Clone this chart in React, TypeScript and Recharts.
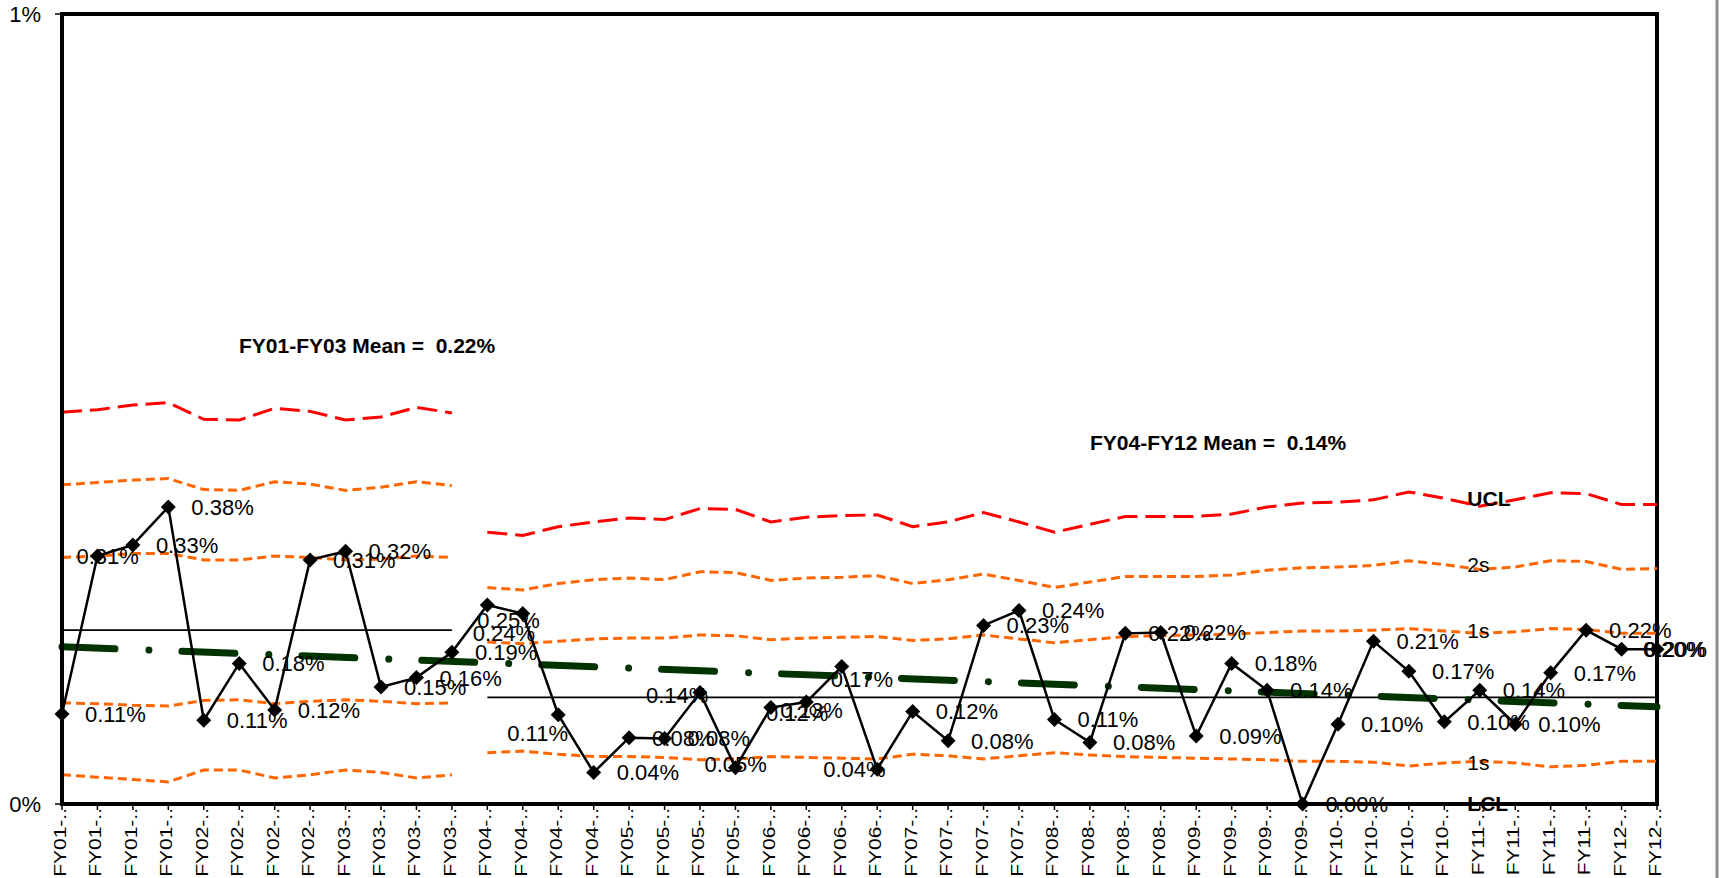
import React from "react";
import {
  LineChart,
  Line,
  XAxis,
  YAxis,
  ReferenceLine,
  ReferenceDot,
  LabelList,
} from "recharts";

const FONT = "'Liberation Sans', Arial, sans-serif";

// quarters on the category axis (FY12 has only two)
const quarters = [
  "FY01-Q1", "FY01-Q2", "FY01-Q3", "FY01-Q4",
  "FY02-Q1", "FY02-Q2", "FY02-Q3", "FY02-Q4",
  "FY03-Q1", "FY03-Q2", "FY03-Q3", "FY03-Q4",
  "FY04-Q1", "FY04-Q2", "FY04-Q3", "FY04-Q4",
  "FY05-Q1", "FY05-Q2", "FY05-Q3", "FY05-Q4",
  "FY06-Q1", "FY06-Q2", "FY06-Q3", "FY06-Q4",
  "FY07-Q1", "FY07-Q2", "FY07-Q3", "FY07-Q4",
  "FY08-Q1", "FY08-Q2", "FY08-Q3", "FY08-Q4",
  "FY09-Q1", "FY09-Q2", "FY09-Q3", "FY09-Q4",
  "FY10-Q1", "FY10-Q2", "FY10-Q3", "FY10-Q4",
  "FY11-Q1", "FY11-Q2", "FY11-Q3", "FY11-Q4",
  "FY12-Q1", "FY12-Q2",
];

// observed rate, in percent
const rate = [
  0.114, 0.314, 0.328, 0.376, 0.106, 0.178, 0.119, 0.309, 0.32, 0.148, 0.16, 0.192,
  0.252, 0.241, 0.113, 0.04, 0.084, 0.083, 0.141, 0.046, 0.122, 0.129, 0.174, 0.044, 0.117, 0.08,
  0.226, 0.245, 0.107, 0.078, 0.216, 0.217, 0.086, 0.178, 0.144, 0, 0.101, 0.206, 0.168, 0.104,
  0.144, 0.101, 0.166, 0.22, 0.196, 0.196,
];

// FY01-FY03 limits (first 12 quarters)
const ucl1 = [0.496, 0.499, 0.505, 0.508, 0.487, 0.486, 0.501, 0.497, 0.486, 0.49, 0.502, 0.495];
const plus2s1 = [0.404, 0.407, 0.41, 0.412, 0.398, 0.397, 0.408, 0.405, 0.397, 0.401, 0.408, 0.403];
const plus1s1 = [0.312, 0.314, 0.317, 0.317, 0.309, 0.309, 0.314, 0.312, 0.309, 0.31, 0.314, 0.312];
const minus1s1 = [0.128, 0.127, 0.125, 0.124, 0.131, 0.132, 0.127, 0.13, 0.132, 0.13, 0.127, 0.128];
const minus2s1 = [0.037, 0.034, 0.031, 0.028, 0.043, 0.043, 0.033, 0.037, 0.043, 0.04, 0.033, 0.037];

// FY04-FY12 limits (remaining 34 quarters)
const ucl2 = [
  0.344, 0.34, 0.351, 0.357, 0.362, 0.36, 0.374, 0.373, 0.357, 0.363,
  0.365, 0.366, 0.351, 0.357, 0.369, 0.357, 0.344, 0.354, 0.364, 0.364,
  0.364, 0.367, 0.376, 0.381, 0.382, 0.385, 0.395, 0.387, 0.377, 0.385,
  0.394, 0.393, 0.379, 0.379,
];
const plus2s2 = [
  0.274, 0.271, 0.279, 0.284, 0.286, 0.284, 0.294, 0.293, 0.283, 0.286,
  0.287, 0.289, 0.279, 0.284, 0.291, 0.283, 0.274, 0.281, 0.288, 0.288,
  0.288, 0.29, 0.296, 0.299, 0.3, 0.302, 0.308, 0.303, 0.297, 0.3,
  0.308, 0.307, 0.297, 0.298,
];
const plus1s2 = [
  0.205, 0.203, 0.206, 0.209, 0.21, 0.21, 0.214, 0.213, 0.208, 0.21,
  0.211, 0.212, 0.207, 0.209, 0.214, 0.209, 0.204, 0.208, 0.212, 0.213,
  0.214, 0.215, 0.217, 0.219, 0.219, 0.22, 0.222, 0.219, 0.216, 0.218,
  0.222, 0.221, 0.216, 0.216,
];
const minus1s2 = [
  0.065, 0.067, 0.063, 0.06, 0.06, 0.059, 0.056, 0.057, 0.06, 0.059,
  0.058, 0.057, 0.063, 0.061, 0.057, 0.061, 0.065, 0.062, 0.06, 0.059,
  0.058, 0.057, 0.056, 0.054, 0.054, 0.053, 0.048, 0.052, 0.054, 0.052,
  0.047, 0.049, 0.054, 0.054,
];

const means = [0.22, 0.135];
const lcl = 0;
const trendEnds = [0.199, 0.123];
const SPLIT = 12;

const data = quarters.map((q, i) => {
  const a = i < SPLIT ? i : -1;
  const b = i >= SPLIT ? i - SPLIT : -1;
  return {
    q,
    rate: rate[i],
    ucl1: a >= 0 ? ucl1[a] : null,
    p2s1: a >= 0 ? plus2s1[a] : null,
    p1s1: a >= 0 ? plus1s1[a] : null,
    m1s1: a >= 0 ? minus1s1[a] : null,
    m2s1: a >= 0 ? minus2s1[a] : null,
    ucl2: b >= 0 ? ucl2[b] : null,
    p2s2: b >= 0 ? plus2s2[b] : null,
    p1s2: b >= 0 ? plus1s2[b] : null,
    m1s2: b >= 0 ? minus1s2[b] : null,
  };
});

// hand-moved data labels in the original: [dx, dy] from the point
const labelShift: Record<number, [number, number]> = {
  1: [-21, 0],
  12: [-10, 15],
  13: [-50, 19],
  14: [-51, 18],
  18: [-54, 2],
  19: [-31, -4],
  20: [-5, 5],
  21: [-26, 8],
  22: [-11, 13],
  23: [-54, 0],
  45: [-14, 0],
};

function RateLabel(props: any) {
  const { x, y, value, index } = props;
  if (value == null || x == null) return null;
  const [dx, dy] = labelShift[index] ?? [23, 0];
  return (
    <text x={x + dx} y={y + dy} dy="0.36em" fontSize={22} fontFamily={FONT} fill="#000">
      {Number(value).toFixed(2)}%
    </text>
  );
}

function Diamond(props: any) {
  const { cx, cy, index } = props;
  if (cx == null || cy == null) return <g key={`d${index}`} />;
  const r = 7.5;
  return (
    <polygon
      key={`d${index}`}
      points={`${cx},${cy - r} ${cx + r},${cy} ${cx},${cy + r} ${cx - r},${cy}`}
      fill="#000"
    />
  );
}

function QuarterTick(props: any) {
  const { x, y, payload } = props;
  const txt = `${String(payload.value).slice(0, 5)}..`;
  return (
    <g transform={`translate(${x + 4},${y - 4})`}>
      <text
        transform="rotate(-90) scale(1,0.78)"
        textAnchor="end"
        fontSize={21}
        fontFamily={FONT}
        fill="#000"
      >
        {txt}
      </text>
    </g>
  );
}

const tagLabel = (value: string, bold: boolean) => ({
  value,
  position: "right" as const,
  offset: 23,
  fontSize: 21,
  fontWeight: bold ? 700 : 400,
  fill: "#000",
  fontFamily: FONT,
});

const RED = "#FF0000";
const ORANGE = "#FF6600";
const GREEN = "#003300";

export default function App() {
  return (
    <div
      style={{
        position: "fixed",
        left: 0,
        top: 0,
        width: 1723,
        height: 878,
        overflow: "hidden",
        background: "#fff",
      }}
    >
      <svg
        width={1723}
        height={878}
        style={{ position: "absolute", left: 0, top: 0 }}
      >
        <rect x={62} y={14} width={1595} height={790} fill="none" stroke="#000" strokeWidth={4} />
        <line x1={1717} y1={0} x2={1717} y2={878} stroke="#8c8c8c" strokeWidth={3} />
        <text x={239} y={353} fontSize={21} fontWeight={700} fontFamily={FONT} fill="#000" style={{ whiteSpace: "pre" }}>
          {"FY01-FY03 Mean =  0.22%"}
        </text>
        <text x={1090} y={450} fontSize={21} fontWeight={700} fontFamily={FONT} fill="#000" style={{ whiteSpace: "pre" }}>
          {"FY04-FY12 Mean =  0.14%"}
        </text>
      </svg>
      <div style={{ position: "absolute", left: 0, top: 0 }}>
        <LineChart
          width={1723}
          height={878}
          data={data}
          margin={{ top: 14, right: 66, bottom: 0, left: 8 }}
        >
          <XAxis
            dataKey="q"
            interval={0}
            height={74}
            tick={<QuarterTick />}
            tickSize={6}
            axisLine={{ stroke: "#000", strokeWidth: 4 }}
            tickLine={{ stroke: "#000", strokeWidth: 1.5 }}
          />
          <YAxis
            width={54}
            domain={[0, 1]}
            ticks={[0, 1]}
            tickFormatter={(v: number) => `${v}%`}
            tick={{ fontSize: 22, fill: "#000", fontFamily: FONT }}
            tickSize={7}
            tickMargin={14}
            axisLine={{ stroke: "#000", strokeWidth: 4 }}
            tickLine={{ stroke: "#000", strokeWidth: 1.5 }}
          />
          <ReferenceLine
            segment={[{ x: quarters[0], y: means[0] }, { x: quarters[SPLIT - 1], y: means[0] }]}
            stroke="#000"
            strokeWidth={1.8}
          />
          <ReferenceLine
            segment={[{ x: quarters[SPLIT], y: means[1] }, { x: quarters[quarters.length - 1], y: means[1] }]}
            stroke="#000"
            strokeWidth={1.8}
          />
          <ReferenceLine
            segment={[{ x: quarters[0], y: lcl }, { x: quarters[SPLIT - 1], y: lcl }]}
            stroke={RED}
            strokeWidth={4}
            strokeDasharray="20 8"
          />
          <ReferenceLine
            segment={[{ x: quarters[SPLIT], y: lcl }, { x: quarters[quarters.length - 1], y: lcl }]}
            stroke={RED}
            strokeWidth={4}
            strokeDasharray="20 8"
          />
          <ReferenceLine
            segment={[{ x: quarters[SPLIT], y: lcl }, { x: quarters[quarters.length - 1], y: lcl }]}
            stroke={ORANGE}
            strokeWidth={3}
            strokeDasharray="9 5"
          />

          <Line dataKey="ucl1" stroke={RED} strokeWidth={3} strokeDasharray="20 8" dot={false} isAnimationActive={false} />
          <Line dataKey="p2s1" stroke={ORANGE} strokeWidth={3} strokeDasharray="9 5" dot={false} isAnimationActive={false} />
          <Line dataKey="p1s1" stroke={ORANGE} strokeWidth={3} strokeDasharray="9 5" dot={false} isAnimationActive={false} />
          <Line dataKey="m1s1" stroke={ORANGE} strokeWidth={3} strokeDasharray="9 5" dot={false} isAnimationActive={false} />
          <Line dataKey="m2s1" stroke={ORANGE} strokeWidth={3} strokeDasharray="9 5" dot={false} isAnimationActive={false} />
          <Line dataKey="ucl2" stroke={RED} strokeWidth={3} strokeDasharray="20 8" dot={false} isAnimationActive={false} />
          <Line dataKey="p2s2" stroke={ORANGE} strokeWidth={3} strokeDasharray="9 5" dot={false} isAnimationActive={false} />
          <Line dataKey="p1s2" stroke={ORANGE} strokeWidth={3} strokeDasharray="9 5" dot={false} isAnimationActive={false} />
          <Line dataKey="m1s2" stroke={ORANGE} strokeWidth={3} strokeDasharray="9 5" dot={false} isAnimationActive={false} />

          <ReferenceLine
            segment={[
              { x: quarters[0], y: trendEnds[0] },
              { x: quarters[quarters.length - 1], y: trendEnds[1] },
            ]}
            stroke={GREEN}
            strokeWidth={7}
            strokeDasharray="53 34 0.01 33"
            strokeLinecap="round"
          />

          <Line
            dataKey="rate"
            stroke="#000"
            strokeWidth={2.5}
            dot={<Diamond />}
            activeDot={false}
            isAnimationActive={false}
          >
            <LabelList dataKey="rate" content={<RateLabel />} />
          </Line>

          <ReferenceDot x={quarters[39]} y={ucl2[39 - SPLIT]} r={0} fill="none" stroke="none" label={tagLabel("UCL", true)} />
          <ReferenceDot x={quarters[39]} y={plus2s2[39 - SPLIT]} r={0} fill="none" stroke="none" label={tagLabel("2s", false)} />
          <ReferenceDot x={quarters[39]} y={plus1s2[39 - SPLIT]} r={0} fill="none" stroke="none" label={tagLabel("1s", false)} />
          <ReferenceDot x={quarters[39]} y={minus1s2[39 - SPLIT]} r={0} fill="none" stroke="none" label={tagLabel("1s", false)} />
          <ReferenceDot x={quarters[39]} y={lcl} r={0} fill="none" stroke="none" label={tagLabel("LCL", true)} />
        </LineChart>
      </div>
    </div>
  );
}
